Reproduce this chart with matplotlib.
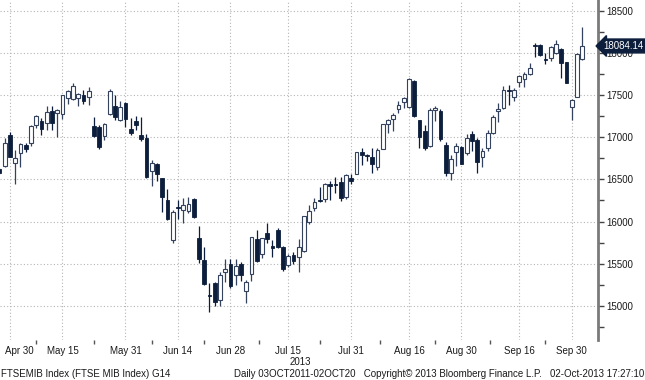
import numpy as np
import pandas as pd
import matplotlib
matplotlib.use('Agg')
import matplotlib.pyplot as plt
from matplotlib import font_manager
from matplotlib.ticker import FixedLocator, NullFormatter
import matplotlib.transforms as mtransforms

# FTSE MIB daily candles, 26 Apr 2013 - 02 Oct 2013
opens = [16620, 16660, 17030, 16690, 16810, 16910, 16930, 17145, 17195, 17165,
         17310, 17285, 17280, 17465, 17450, 17465, 17505, 17475, 17135, 17120,
         17010, 17280, 17370, 17205, 17410, 17100, 17195, 17030, 16990, 16605,
         16685, 16515, 16255, 15780, 16175, 16135, 16130, 16265, 15810, 15545,
         15130, 15275, 15070, 15395, 15500, 15360, 15500, 15180, 15380, 15795,
         15615, 15860, 15705, 15900, 15700, 15485, 15600, 15575, 15650, 15990,
         16155, 16260, 16265, 16440, 16450, 16470, 16295, 16520, 16565, 16830,
         16790, 16760, 16645, 16860, 17160, 17215, 17335, 17415, 17355, 17670,
         17200, 17080, 16900, 17325, 17310, 16910, 16580, 16820, 16890, 16810,
         17040, 16970, 16770, 16870, 17055, 17315, 17345, 17560, 17475, 17660,
         17690, 17750, 18090, 18090, 17925, 17940, 17995, 18050, 17890, 17355,
         17480, 17935]
highs = [16640, 16990, 17060, 16850, 16930, 16930, 17150, 17270, 17225, 17370,
         17370, 17330, 17505, 17565, 17650, 17525, 17565, 17600, 17235, 17140,
         17175, 17570, 17500, 17430, 17420, 17225, 17250, 17245, 17040, 16735,
         16690, 16520, 16380, 16140, 16250, 16280, 16290, 16275, 15950, 15695,
         15265, 15280, 15395, 15550, 15560, 15560, 15515, 15310, 15815, 15900,
         15810, 15985, 15780, 15920, 15705, 15610, 15640, 15790, 16070, 16190,
         16280, 16410, 16460, 16485, 16530, 16530, 16560, 16565, 16830, 16870,
         16800, 16870, 16870, 17160, 17215, 17285, 17430, 17480, 17700, 17680,
         17210, 17150, 17345, 17375, 17340, 16940, 16790, 16930, 16900, 17040,
         17080, 16990, 16870, 17090, 17260, 17405, 17610, 17620, 17580, 17745,
         17770, 17885, 18120, 18110, 18000, 18085, 18150, 18060, 17890, 17460,
         18000, 18310]
lows = [16560, 16650, 16760, 16450, 16650, 16830, 16900, 17110, 17030, 17090,
        17090, 17000, 17220, 17390, 17440, 17370, 17390, 17380, 17000, 16860,
        16970, 17260, 17210, 17195, 17120, 17030, 17090, 16960, 16520, 16420,
        16475, 16115, 16020, 15745, 16030, 15980, 16105, 16040, 15510, 15245,
        14920, 15000, 15000, 15285, 15210, 15245, 15290, 15030, 15290, 15515,
        15570, 15740, 15575, 15690, 15415, 15465, 15500, 15405, 15640, 15975,
        16120, 16235, 16230, 16260, 16335, 16240, 16270, 16445, 16560, 16670,
        16715, 16580, 16610, 16855, 17050, 17080, 17290, 17350, 17345, 17240,
        16870, 16850, 16890, 17190, 16960, 16540, 16490, 16660, 16680, 16790,
        16840, 16580, 16650, 16840, 17040, 17185, 17335, 17385, 17425, 17595,
        17600, 17740, 17955, 17970, 17870, 17900, 17985, 17700, 17650, 17200,
        17475, 17920]
closes = [16580, 16930, 16770, 16750, 16920, 16860, 17135, 17250, 17095, 17295,
          17175, 17325, 17505, 17545, 17610, 17515, 17425, 17550, 17010, 16890,
          17160, 17545, 17235, 17365, 17220, 17055, 17140, 16980, 16530, 16690,
          16560, 16285, 16025, 16115, 16160, 16195, 16210, 16050, 15550, 15255,
          15115, 15050, 15365, 15435, 15235, 15470, 15360, 15285, 15815, 15535,
          15800, 15790, 15690, 15700, 15435, 15590, 15535, 15695, 16060, 16125,
          16235, 16245, 16445, 16425, 16430, 16275, 16550, 16485, 16820, 16790,
          16775, 16680, 16850, 17160, 17200, 17265, 17385, 17470, 17690, 17250,
          17000, 16870, 17325, 17345, 16985, 16575, 16740, 16900, 16685, 16990,
          16950, 16710, 16840, 17050, 17245, 17335, 17560, 17545, 17560, 17730,
          17750, 17820, 18080, 17975, 17915, 18070, 18105, 17880, 17650, 17445,
          17990, 18084.14]

tick_dates = ['2013-04-30', '2013-05-15', '2013-05-31', '2013-06-14', '2013-06-28',
              '2013-07-15', '2013-07-31', '2013-08-16', '2013-08-30', '2013-09-16',
              '2013-09-30']
tick_labels = ['Apr 30', 'May 15', 'May 31', 'Jun 14', 'Jun 28', 'Jul 15',
               'Jul 31', 'Aug 16', 'Aug 30', 'Sep 16', 'Sep 30']
y_ticks = [15000, 15500, 16000, 16500, 17000, 17500, 18000, 18500]
last_price = 18084.14

# trading calendar (Borsa Italiana closed 1 May and 15 Aug)
days = pd.bdate_range('2013-04-26', '2013-10-02')
days = days[~days.isin(pd.to_datetime(['2013-05-01', '2013-08-15']))]
x = np.arange(len(days))

plt.rcParams['font.family'] = ['Liberation Sans', 'DejaVu Sans']
FS = 7

navy = '#0c1e3c'
hollow_edge = '#34425e'
grid_c = '#b5b5b5'
txt_c = '#1a1a1a'

fig = plt.figure(figsize=(6.45, 3.8), dpi=100)
ax = fig.add_axes([0, 1 - 340 / 380, 598 / 645, 340 / 380])

o = np.array(opens)
h = np.array(highs)
l = np.array(lows)
c = np.array(closes)
up = c >= o

# wicks
ax.vlines(x[~up], l[~up], h[~up], color=navy, lw=0.9, zorder=2)
ax.vlines(x[up], l[up], h[up], color=hollow_edge, lw=0.9, zorder=2)

# bodies
body = np.maximum(np.abs(c - o), 6)
bottom = np.minimum(o, c)
ax.bar(x[~up], body[~up], bottom=bottom[~up], width=0.72, color=navy,
       edgecolor=navy, linewidth=0.6, zorder=3)
ax.bar(x[up], body[up], bottom=bottom[up], width=0.72, color='white',
       edgecolor=hollow_edge, linewidth=0.8, zorder=3)

ax.set_xlim(0.1, 114.0)
ax.set_ylim(14593, 18630)

# x axis
pos = [days.get_loc(pd.Timestamp(d)) for d in tick_dates]
ax.set_xticks(pos)
ax.set_xticklabels(tick_labels, fontsize=FS, color=txt_c)
mids = [(a + b) / 2 for a, b in zip(pos[:-1], pos[1:])]
ax.xaxis.set_minor_locator(FixedLocator(mids))
ax.tick_params(axis='x', which='major', length=0, pad=4)
ax.tick_params(axis='x', which='minor', length=3, width=1, color='#555555')
first = ax.get_xticklabels()[0]
first.set_horizontalalignment('left')
first.set_transform(first.get_transform() +
                    mtransforms.ScaledTranslation(-5 / 100, 0, fig.dpi_scale_trans))

# y axis on the right
ax.yaxis.tick_right()
ax.set_yticks(y_ticks)
ax.set_yticklabels([str(v) for v in y_ticks], fontsize=FS, color=txt_c)
ax.yaxis.set_minor_locator(FixedLocator([v + 250 for v in [14500] + y_ticks]))
ax.yaxis.set_minor_formatter(NullFormatter())
ax.tick_params(axis='y', which='both', length=4, width=1, color='#444444', pad=2)

ax.grid(True, which='major', color=grid_c, linestyle=(0, (1, 2)), linewidth=0.8)
ax.set_axisbelow(True)

for s in ['top', 'left', 'bottom']:
    ax.spines[s].set_visible(False)
ax.spines['right'].set_color('#7a7a7a')
ax.spines['right'].set_linewidth(2)

# last price tag
ax.annotate(f'{last_price:.2f}', xy=(1.0, last_price),
            xycoords=('axes fraction', 'data'), xytext=(4, 0),
            textcoords='offset points', ha='left', va='center',
            color='white', fontsize=FS, zorder=5,
            bbox=dict(boxstyle='larrow,pad=0.2', fc=navy, ec=navy))

# year and footer
fig.text(300 / 645, 1 - 362 / 380, '2013', ha='center', va='center',
         fontsize=FS, color=txt_c)
fig.text(1 / 645, 1 - 374 / 380, 'FTSEMIB Index (FTSE MIB Index) G14',
         ha='left', va='center', fontsize=FS, color=txt_c)
fig.text(644 / 645, 1 - 374 / 380,
         'Daily 03OCT2011-02OCT20   Copyright\u00a9 2013 Bloomberg Finance L.P.   02-Oct-2013 17:27:10',
         ha='right', va='center', fontsize=FS, color=txt_c)

fig.savefig('out.png', dpi=100, facecolor='white')
